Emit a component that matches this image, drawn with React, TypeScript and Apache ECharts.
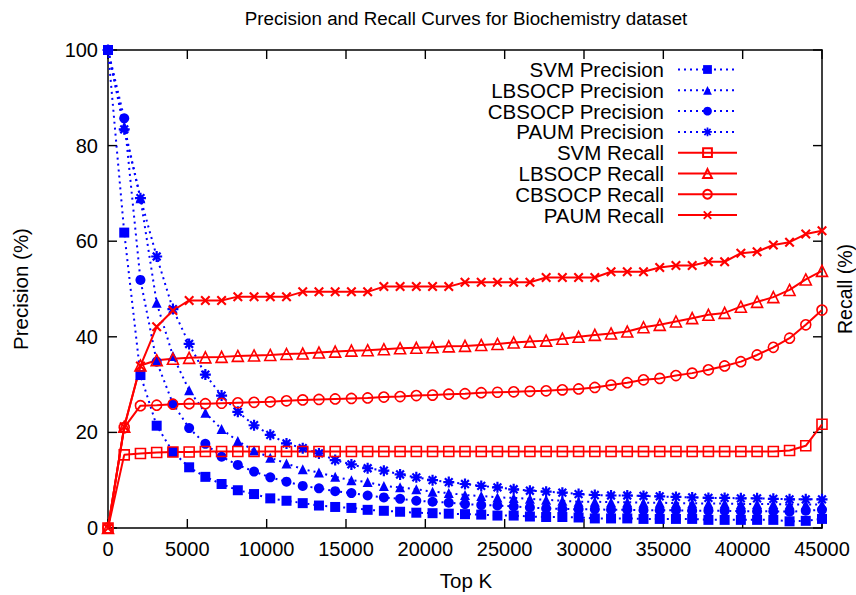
import React, { useEffect, useRef } from "react";
import * as echarts from "echarts";

const topK = [0, 1023, 2045, 3068, 4091, 5114, 6136, 7159, 8182, 9205, 10227, 11250, 12273, 13295, 14318, 15341, 16364, 17386, 18409, 19432, 20455, 21477, 22500, 23523, 24545, 25568, 26591, 27614, 28636, 29659, 30682, 31705, 32727, 33750, 34773, 35795, 36818, 37841, 38864, 39886, 40909, 41932, 42955, 43977, 45000];

const svmPrecision = [100, 61.8, 32.0, 21.4, 15.9, 12.7, 10.7, 9.2, 7.9, 7.1, 6.2, 5.7, 5.2, 4.7, 4.4, 4.2, 3.8, 3.6, 3.4, 3.2, 3.1, 3.0, 2.9, 2.8, 2.6, 2.6, 2.4, 2.3, 2.3, 2.2, 2.0, 2.0, 2.0, 1.9, 1.9, 1.9, 1.9, 1.7, 1.7, 1.7, 1.7, 1.7, 1.4, 1.5, 1.9];
const lbsocpPrecision = [100, 84.0, 69.0, 47.1, 36.0, 28.8, 24.1, 20.7, 18.2, 16.2, 14.7, 13.5, 12.3, 11.6, 10.7, 10.0, 9.6, 8.8, 8.5, 8.1, 7.6, 7.3, 6.9, 6.7, 6.4, 6.3, 6.1, 5.9, 5.7, 5.5, 5.5, 5.4, 5.4, 5.3, 5.3, 5.2, 5.2, 5.1, 5.1, 5.0, 5.0, 5.0, 4.9, 4.9, 4.9];
const cbsocpPrecision = [100, 85.7, 51.9, 34.8, 26.0, 20.9, 17.6, 14.9, 13.2, 11.8, 10.6, 9.7, 8.8, 8.3, 7.7, 7.3, 6.8, 6.4, 6.1, 5.7, 5.5, 5.3, 5.0, 4.8, 4.7, 4.5, 4.3, 4.1, 4.0, 3.9, 3.9, 3.8, 3.8, 3.7, 3.7, 3.7, 3.6, 3.6, 3.6, 3.5, 3.5, 3.5, 3.4, 3.6, 3.8];
const paumPrecision = [100, 83.4, 69.0, 56.8, 45.8, 38.5, 32.1, 27.7, 24.3, 21.5, 19.5, 17.7, 16.7, 15.6, 14.2, 13.3, 12.5, 12.0, 11.2, 10.6, 10.0, 9.6, 9.2, 8.8, 8.5, 8.1, 7.8, 7.6, 7.4, 7.1, 6.9, 6.8, 6.8, 6.7, 6.6, 6.5, 6.4, 6.3, 6.3, 6.2, 6.2, 6.1, 6.0, 6.0, 6.0];

const svmRecall = [0, 15.3, 15.6, 15.8, 15.9, 15.9, 16.0, 16.0, 16.0, 16.0, 16.0, 16.0, 16.0, 16.0, 16.0, 16.0, 16.0, 16.0, 16.0, 16.0, 16.0, 16.0, 16.0, 16.0, 16.0, 16.0, 16.0, 16.0, 16.0, 16.0, 16.0, 16.0, 16.0, 16.0, 16.0, 16.0, 16.0, 16.0, 16.0, 16.0, 16.0, 16.0, 16.2, 17.2, 21.7];
const lbsocpRecall = [0, 21.2, 34.0, 35.1, 35.4, 35.6, 35.7, 35.8, 36.0, 36.1, 36.2, 36.4, 36.5, 36.7, 36.9, 37.1, 37.2, 37.4, 37.6, 37.7, 37.8, 38.0, 38.1, 38.3, 38.5, 38.8, 39.0, 39.2, 39.6, 40.0, 40.4, 40.7, 41.1, 42.0, 42.5, 43.2, 43.9, 44.6, 45.0, 46.3, 47.3, 48.3, 49.8, 52.0, 53.8];
const cbsocpRecall = [0, 21.0, 25.6, 25.7, 25.9, 26.0, 26.0, 26.1, 26.2, 26.3, 26.4, 26.6, 26.8, 26.9, 27.0, 27.1, 27.2, 27.4, 27.5, 27.7, 27.8, 28.0, 28.1, 28.3, 28.4, 28.5, 28.6, 28.7, 28.9, 29.1, 29.4, 29.9, 30.4, 31.0, 31.3, 31.9, 32.4, 33.1, 33.9, 34.8, 36.2, 37.8, 39.7, 42.5, 45.6];
const paumRecall = [0, 21.2, 33.9, 42.1, 45.5, 47.6, 47.6, 47.6, 48.4, 48.4, 48.4, 48.4, 49.4, 49.4, 49.4, 49.4, 49.4, 50.5, 50.5, 50.5, 50.5, 50.5, 51.4, 51.4, 51.4, 51.4, 51.4, 52.4, 52.4, 52.4, 52.4, 53.6, 53.6, 53.6, 54.5, 54.9, 54.9, 55.7, 55.7, 57.5, 57.8, 59.2, 59.8, 61.5, 62.2];

const xTickValues = [0, 5000, 10000, 15000, 20000, 25000, 30000, 35000, 40000, 45000];
const yTickValues = [0, 20, 40, 60, 80, 100];

const seriesNames = [
  "SVM Precision",
  "LBSOCP Precision",
  "CBSOCP Precision",
  "PAUM Precision",
  "SVM Recall",
  "LBSOCP Recall",
  "CBSOCP Recall",
  "PAUM Recall",
];

const xTitle = "Top K";
const yTitle = "Precision (%)";
const y2Title = "Recall (%)";
const chartTitle = "Precision and Recall Curves for Biochemistry dataset";

const STAR =
  "path://M0 8H20V12H0Z M8 0H12V20H8Z M1.52 4.34L4.34 1.52L18.48 15.66L15.66 18.48Z M15.66 1.52L18.48 4.34L4.34 18.48L1.52 15.66Z";
const CROSS = "path://M0 3L3 0L20 17L17 20Z M17 0L20 3L3 20L0 17Z";

const FONT = "Liberation Sans";
const BLUE = "#0000ff";
const RED = "#ff0000";
const TICK = 9;
const X_MIN = 0;
const X_MAX = 45000;
const Y_MIN = 0;
const Y_MAX = 100;

export default function App() {
  const ref = useRef<HTMLDivElement>(null);
  useEffect(() => {
    if (!ref.current) return;
    const chart = echarts.init(ref.current, undefined, { renderer: "svg" });
    const pair = (ys: number[]) => topK.map((x, i) => [x, ys[i]]);
    const precisionSeries = (name: string, ys: number[], symbol: string, size: number) => ({
      name,
      type: "line",
      data: pair(ys),
      symbol,
      symbolSize: size,
      clip: false,
      lineStyle: { color: BLUE, width: 2, type: [2, 4] },
      itemStyle: { color: BLUE },
      emphasis: { disabled: true },
    });
    const recallSeries = (name: string, ys: number[], symbol: string, size: number, filled: boolean) => ({
      name,
      type: "line",
      data: pair(ys),
      symbol,
      symbolSize: size,
      clip: false,
      lineStyle: { color: RED, width: 2, type: "solid" },
      itemStyle: filled
        ? { color: RED }
        : { color: "rgba(255,255,255,0)", borderColor: RED, borderWidth: 1.6 },
      emphasis: { disabled: true },
    });
    // inward tick marks on all four sides of the frame, placed through the axis scales
    const tickFill = { fill: "#000" };
    const xTickSeries = {
      type: "custom",
      name: "xticks",
      silent: true,
      clip: false,
      z: 1,
      data: xTickValues.map((v) => [v, Y_MIN]),
      renderItem: (params: any, api: any) => {
        const v = api.value(0);
        const b = api.coord([v, Y_MIN]);
        const t = api.coord([v, Y_MAX]);
        return {
          type: "group",
          children: [
            { type: "rect", shape: { x: b[0] - 0.7, y: b[1] - TICK, width: 1.4, height: TICK }, style: tickFill },
            { type: "rect", shape: { x: t[0] - 0.7, y: t[1], width: 1.4, height: TICK }, style: tickFill },
          ],
        };
      },
    };
    const yTickSeries = {
      type: "custom",
      name: "yticks",
      silent: true,
      clip: false,
      z: 1,
      data: yTickValues.map((v) => [X_MIN, v]),
      renderItem: (params: any, api: any) => {
        const v = api.value(1);
        const l = api.coord([X_MIN, v]);
        const r = api.coord([X_MAX, v]);
        return {
          type: "group",
          children: [
            { type: "rect", shape: { x: l[0], y: l[1] - 0.7, width: TICK, height: 1.4 }, style: tickFill },
            { type: "rect", shape: { x: r[0] - TICK, y: r[1] - 0.7, width: TICK, height: 1.4 }, style: tickFill },
          ],
        };
      },
    };
    const axisCommon = {
      type: "value",
      axisLine: { show: true, onZero: false, lineStyle: { color: "#000", width: 1.5 } },
      axisTick: { show: false },
      splitLine: { show: false },
    };
    const plain = (v: number) => String(v);
    chart.setOption({
      animation: false,
      backgroundColor: "#fff",
      grid: { left: 108, right: 34, top: 50, bottom: 67, containLabel: false },
      xAxis: [
        {
          ...axisCommon,
          position: "bottom",
          min: X_MIN,
          max: X_MAX,
          interval: 5000,
          axisLabel: { color: "#000", fontFamily: FONT, fontSize: 20, margin: 11, formatter: plain },
        },
        {
          ...axisCommon,
          position: "top",
          min: X_MIN,
          max: X_MAX,
          interval: 5000,
          axisLabel: { show: false },
        },
      ],
      yAxis: [
        {
          ...axisCommon,
          position: "left",
          min: Y_MIN,
          max: Y_MAX,
          interval: 20,
          axisLabel: { color: "#000", fontFamily: FONT, fontSize: 20, margin: 10, formatter: plain },
        },
        {
          ...axisCommon,
          position: "right",
          min: Y_MIN,
          max: Y_MAX,
          interval: 20,
          axisLabel: { show: false },
        },
      ],
      legend: {
        data: seriesNames,
        orient: "vertical",
        align: "right",
        right: 113,
        top: 54,
        itemWidth: 59,
        itemHeight: 11,
        itemGap: -0.2,
        selectedMode: false,
        textStyle: { color: "#000", fontFamily: FONT, fontSize: 20.5, padding: [0, 9, 0, 0] },
      },
      graphic: {
        elements: [
          {
            type: "text",
            x: 466,
            y: 18,
            style: { text: chartTitle, fontFamily: FONT, fontSize: 18.8, fill: "#000", align: "center", verticalAlign: "middle" },
          },
          {
            type: "text",
            x: 466,
            y: 580,
            style: { text: xTitle, fontFamily: FONT, fontSize: 20.5, fill: "#000", align: "center", verticalAlign: "middle" },
          },
          {
            type: "text",
            x: 20,
            y: 289,
            rotation: Math.PI / 2,
            style: { text: yTitle, fontFamily: FONT, fontSize: 20.5, fill: "#000", align: "center", verticalAlign: "middle" },
          },
          {
            type: "text",
            x: 845,
            y: 289,
            rotation: Math.PI / 2,
            style: { text: y2Title, fontFamily: FONT, fontSize: 19.5, fill: "#000", align: "center", verticalAlign: "middle" },
          },
        ],
      },
      series: [
        xTickSeries,
        yTickSeries,
        precisionSeries(seriesNames[0], svmPrecision, "rect", 10),
        precisionSeries(seriesNames[1], lbsocpPrecision, "triangle", 10),
        precisionSeries(seriesNames[2], cbsocpPrecision, "circle", 10),
        precisionSeries(seriesNames[3], paumPrecision, STAR, 11),
        recallSeries(seriesNames[4], svmRecall, "rect", 10, false),
        recallSeries(seriesNames[5], lbsocpRecall, "triangle", 11, false),
        recallSeries(seriesNames[6], cbsocpRecall, "circle", 10, false),
        recallSeries(seriesNames[7], paumRecall, CROSS, 10, true),
      ],
    });
    return () => chart.dispose();
  }, []);
  return (
    <div
      ref={ref}
      style={{ position: "absolute", left: 0, top: 0, width: 856, height: 595 }}
    />
  );
}
